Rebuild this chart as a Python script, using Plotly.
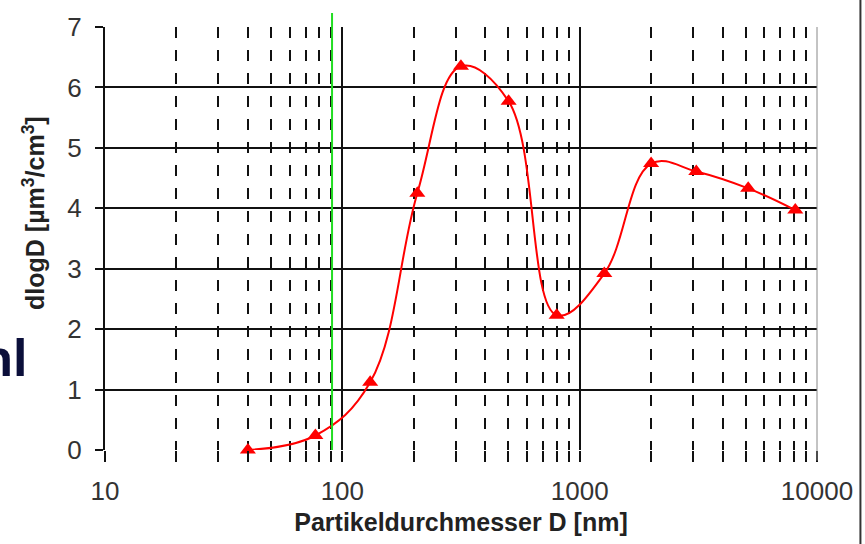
import plotly.graph_objects as go

# Particle diameter [nm] and dV/dlogD [µm³/cm³]
diameter_nm = [40, 77, 131, 207, 316, 502, 800, 1270, 2000, 3100, 5130, 8100]
dv_dlogd = [0.0, 0.24, 1.12, 4.25, 6.35, 5.77, 2.23, 2.92, 4.74, 4.61, 4.33, 3.97]

x_tickvals = [10, 100, 1000, 10000]
x_ticktext = ["10", "100", "1000", "10000"]
y_tickvals = [0, 1, 2, 3, 4, 5, 6, 7]
marker_line_x = 90.5

FONT = "Liberation Sans, Arial, sans-serif"

fig = go.Figure()
fig.add_trace(go.Scatter(
    x=diameter_nm, y=dv_dlogd, mode="lines+markers",
    line=dict(color="#ff0000", width=2, shape="spline", smoothing=1.1),
    marker=dict(symbol="triangle-up", size=14, color="#ff0000"),
    showlegend=False, cliponaxis=False,
))

fig.update_layout(
    width=865, height=544,
    margin=dict(l=105, r=46, t=22, b=92),
    paper_bgcolor="white", plot_bgcolor="white",
    font=dict(family=FONT, color="#222"),
    xaxis=dict(
        type="log", range=[1, 4],
        tickvals=x_tickvals, ticktext=x_ticktext,
        tickfont=dict(size=26, color="#333"),
        ticks="outside", ticklen=11, tickwidth=2, tickcolor="#111",
        showgrid=True, gridcolor="#111", gridwidth=2,
        showline=False, zeroline=False, ticklabelstandoff=7,
        minor=dict(dtick="D1", showgrid=True, gridcolor="#111", gridwidth=1.5,
                   griddash="11px,12px", ticks="outside", ticklen=11,
                   tickwidth=1.5, tickcolor="#111"),
        title=dict(text="<b>Partikeldurchmesser D [nm]</b>",
                   font=dict(size=25, color="#222"), standoff=8),
    ),
    yaxis=dict(
        range=[0, 7], tickvals=y_tickvals,
        tickfont=dict(size=26, color="#333"),
        ticks="outside", ticklen=8, tickwidth=2, tickcolor="#111",
        showgrid=True, gridcolor="#111", gridwidth=2,
        showline=True, linecolor="#111", linewidth=2,
        zeroline=False, ticklabelstandoff=8,
    ),
    shapes=[
        dict(type="line", xref="x", yref="paper", x0=marker_line_x, x1=marker_line_x,
             y0=0, y1=1.033, line=dict(color="#22dd22", width=2)),
        dict(type="line", xref="paper", yref="paper", x0=1.0, x1=1.0, y0=-0.025, y1=1,
             line=dict(color="#888", width=1)),
        dict(type="line", xref="paper", yref="paper", x0=1.061, x1=1.061, y0=-0.3, y1=1.1,
             line=dict(color="#333", width=2)),
    ],
    annotations=[
        dict(text="<b>dlogD [µm<sup>3</sup>/cm<sup>3</sup>]</b>", textangle=-90,
             xref="paper", yref="paper", x=-0.100, y=0.56,
             xanchor="center", yanchor="middle", showarrow=False,
             font=dict(size=25, color="#222")),
        dict(text="<b>Anzahl</b>", xref="paper", yref="paper",
             x=(29 - 105) / 714, y=(452 - 358) / 430,
             xanchor="right", yanchor="middle", showarrow=False,
             font=dict(size=52, color="#0b0f3a")),
    ],
)

fig.write_html("out.html")
